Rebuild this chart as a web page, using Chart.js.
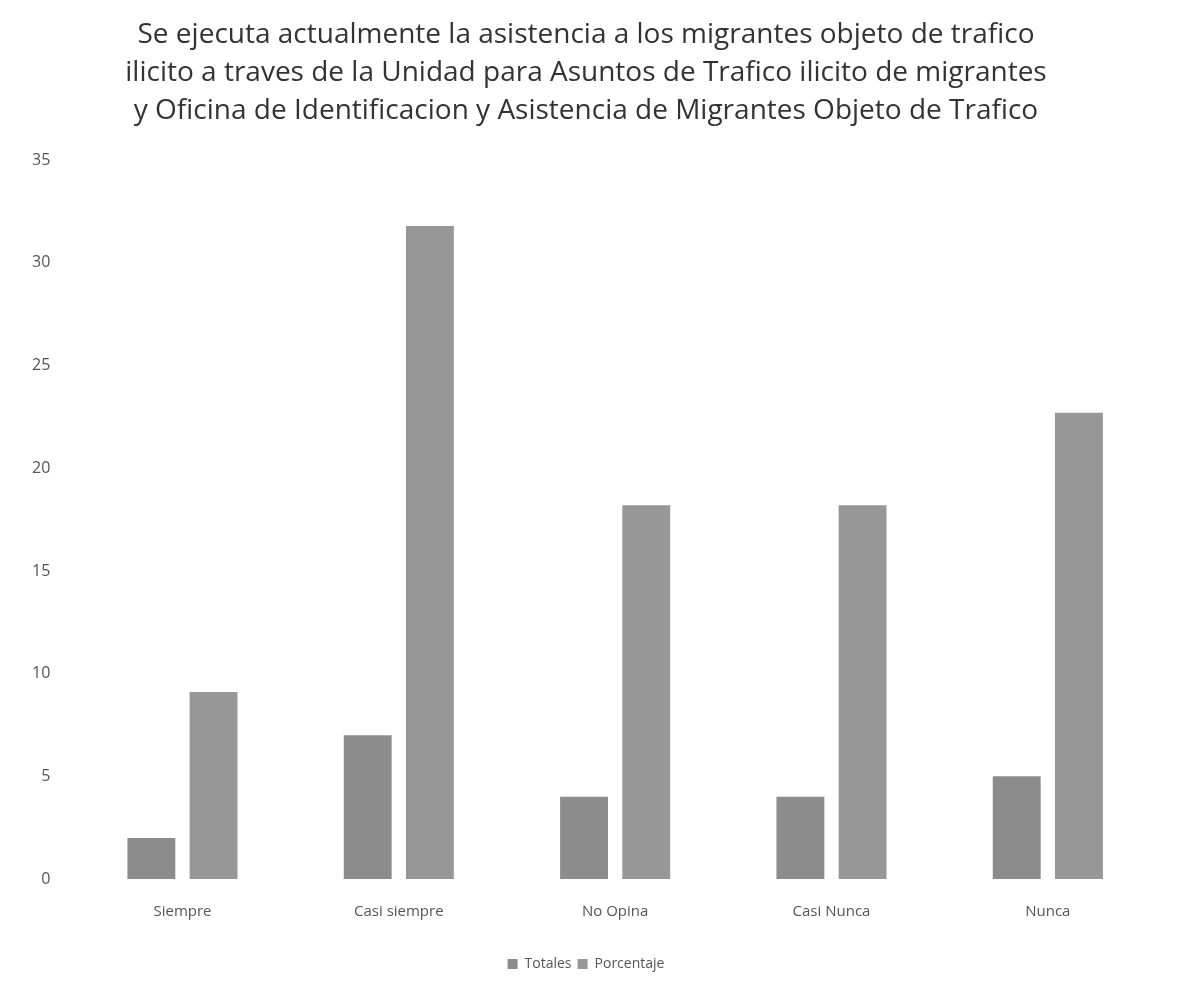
<!DOCTYPE html>
<html>
<head>
<meta charset="utf-8">
<script src="https://cdn.jsdelivr.net/npm/chart.js@4/dist/chart.umd.min.js"></script>
<style>
  html, body { margin: 0; padding: 0; background: #ffffff; }
  #wrap { width: 1178px; height: 981px; position: relative; }
</style>
</head>
<body>
<div id="wrap"><canvas id="chart"></canvas></div>
<script>
// Survey answers (categories) and the two series
const categories = ['Siempre', 'Casi siempre', 'No Opina', 'Casi Nunca', 'Nunca'];
const totales = [2, 7, 4, 4, 5];
const porcentaje = [9.1, 31.8, 18.2, 18.2, 22.7];
const yTicks = [0, 5, 10, 15, 20, 25, 30, 35];

const titleLines = [
    'Se ejecuta actualmente la asistencia a los migrantes objeto de trafico',
    'ilicito a traves de la Unidad para Asuntos de Trafico ilicito de migrantes',
    'y Oficina de Identificacion y Asistencia de Migrantes Objeto de Trafico'
];

const ctx = document.getElementById('chart').getContext('2d');

new Chart(ctx, {
    type: 'bar',
    data: {
        labels: categories,
        datasets: [
            {
                label: 'Totales',
                data: totales,
                backgroundColor: '#8c8c8c',
                categoryPercentage: 0.575,
                barPercentage: 0.77
            },
            {
                label: 'Porcentaje',
                data: porcentaje,
                backgroundColor: '#979797',
                categoryPercentage: 0.575,
                barPercentage: 0.77
            }
        ]
    },
    options: {
        responsive: true,
        maintainAspectRatio: false,
        animation: false,
        layout: {
            padding: { top: 16, left: 16, right: 22, bottom: 0 }
        },
        plugins: {
            title: {
                display: true,
                text: titleLines,
                color: '#333333',
                font: { family: 'Open Sans', size: 28, weight: 'normal', lineHeight: 1.36 },
                padding: { top: 0, bottom: 30 }
            },
            legend: {
                display: true,
                position: 'bottom',
                labels: {
                    color: '#555555',
                    boxWidth: 10,
                    boxHeight: 10,
                    padding: 6,
                    font: { family: 'Open Sans', size: 14 }
                }
            },
            tooltip: { enabled: false }
        },
        scales: {
            x: {
                grid: { display: false },
                border: { display: false },
                afterFit: scale => { scale.height += 14; },
                ticks: {
                    color: '#555555',
                    padding: 16,
                    font: { family: 'Open Sans', size: 15 }
                }
            },
            y: {
                min: 0,
                max: 35,
                afterBuildTicks: axis => {
                    axis.ticks = yTicks.map(v => ({ value: v }));
                },
                grid: { display: false },
                border: { display: false },
                ticks: {
                    color: '#555555',
                    padding: 16,
                    font: { family: 'Open Sans', size: 16 }
                }
            }
        }
    }
});
</script>
</body>
</html>
